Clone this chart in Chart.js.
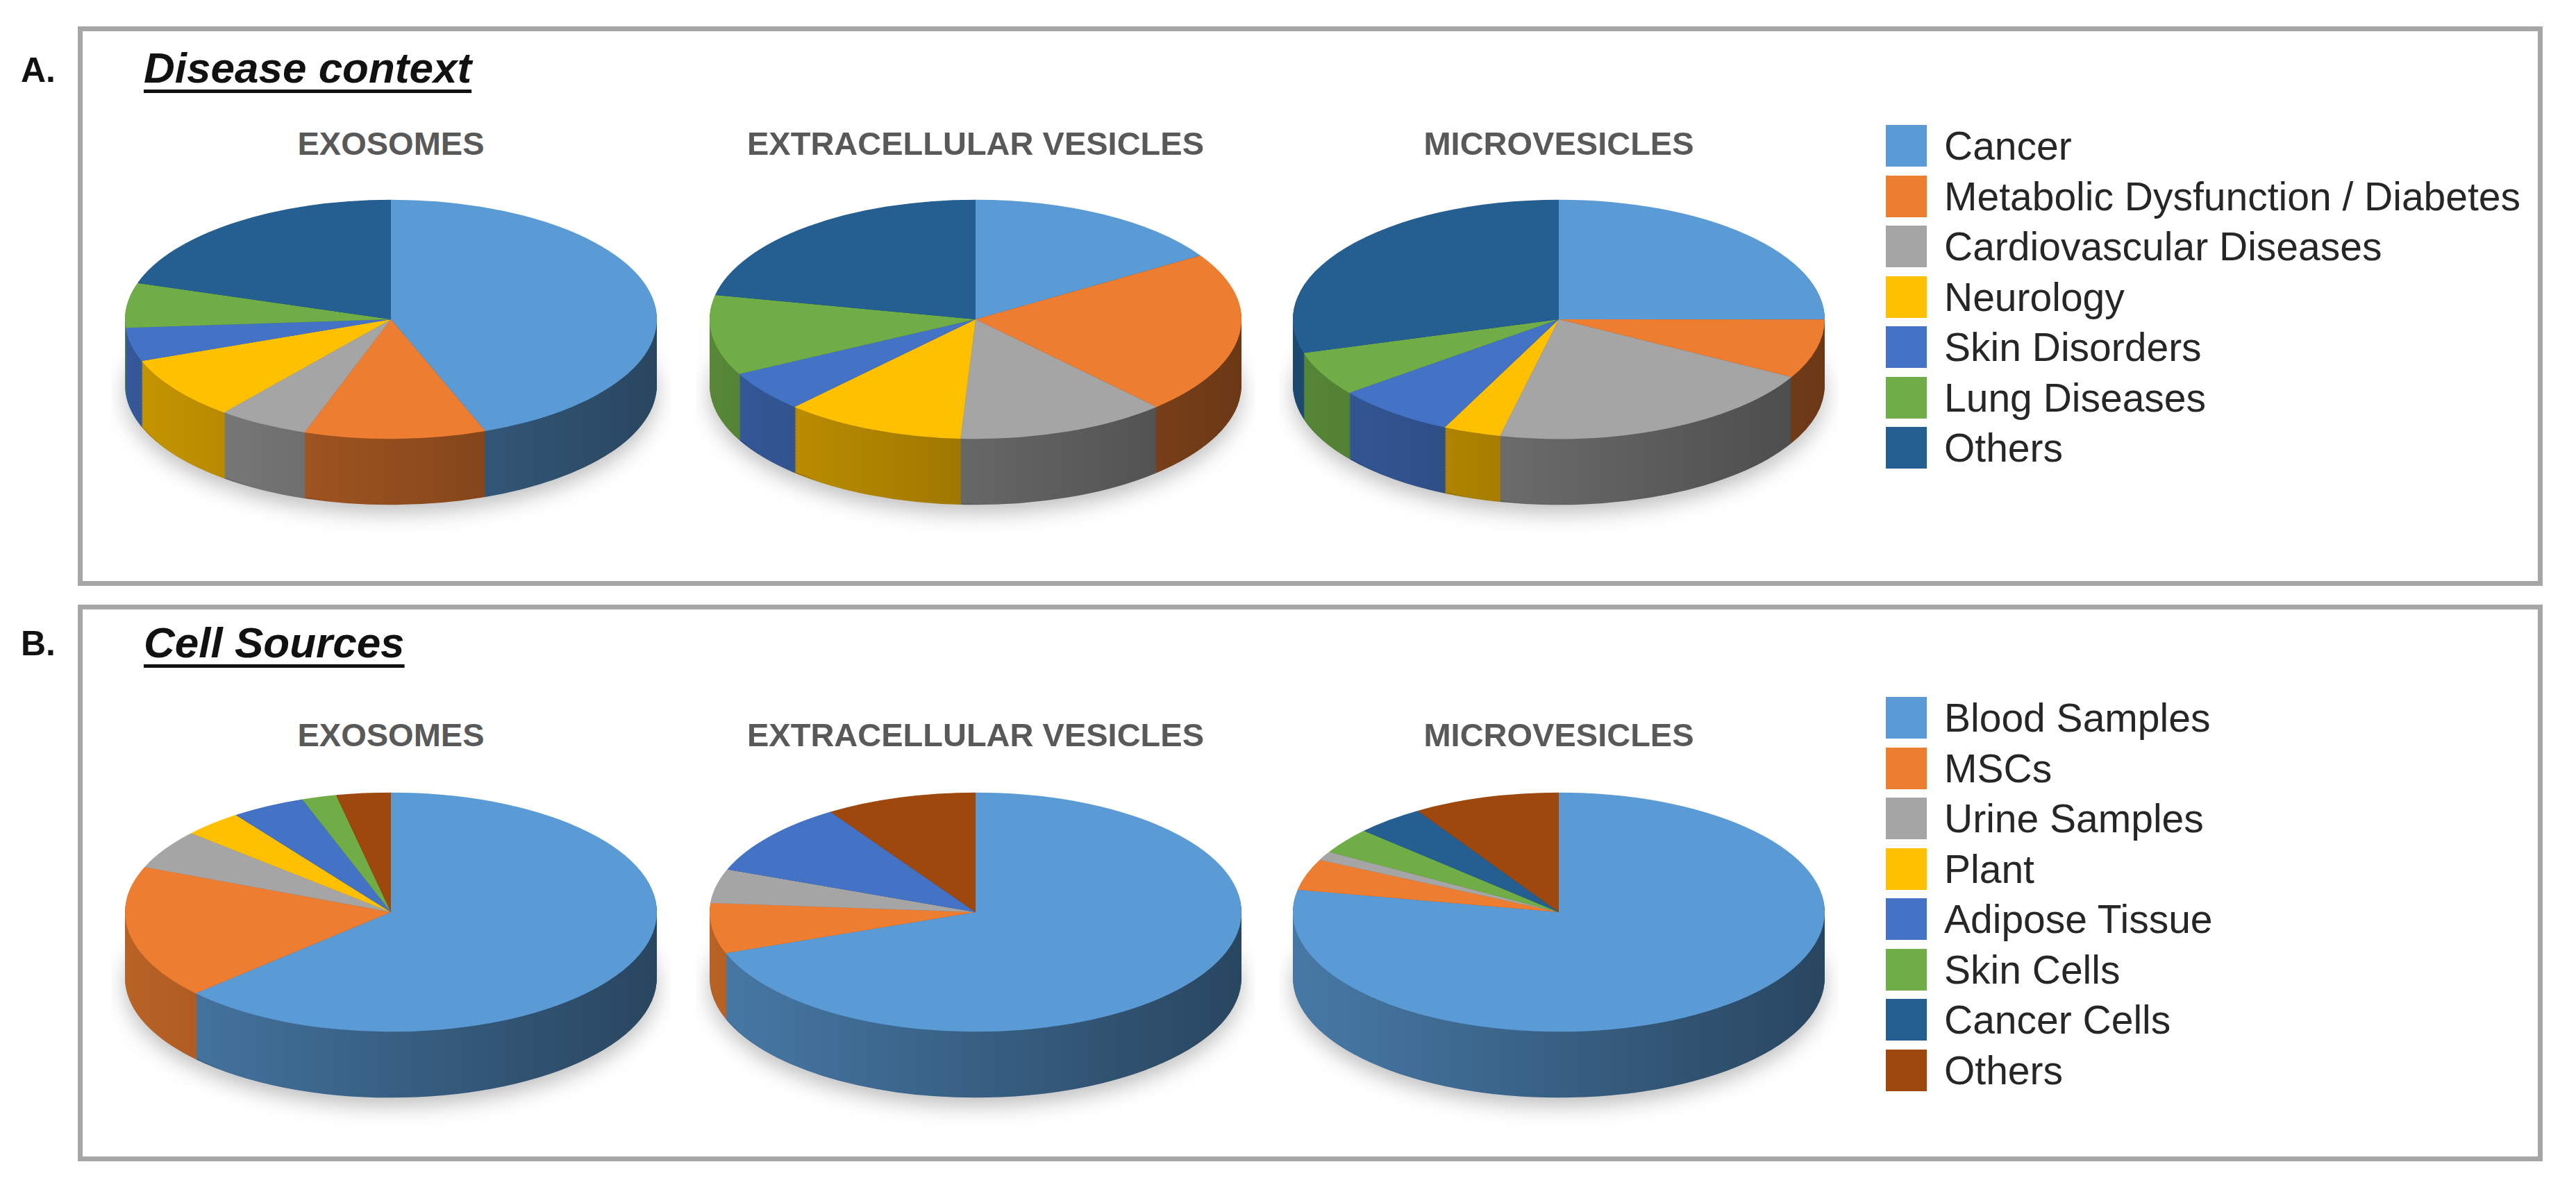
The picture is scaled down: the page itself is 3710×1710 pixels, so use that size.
<!DOCTYPE html>
<html><head><meta charset="utf-8">
<script src="https://cdn.jsdelivr.net/npm/chart.js@4"></script>
<style>
body{margin:0;background:#fff;width:3710px;height:1710px;position:relative;overflow:hidden;font-family:"Liberation Sans Narrow","Liberation Sans",sans-serif;}
.box{position:absolute;border:7px solid #a6a6a6;box-sizing:border-box;}
.lab{position:absolute;font-weight:bold;font-size:50px;color:#111;}
.head{position:absolute;font-weight:bold;font-style:italic;font-size:62px;color:#111;text-decoration:underline;text-decoration-thickness:5px;text-underline-offset:10px;}
.ttl{position:absolute;width:900px;text-align:center;font-weight:bold;font-size:47px;color:#595959;transform:translate(-50%,-50%);}
canvas{position:absolute;}
.leg{position:absolute;left:2716px;}
.row{position:absolute;left:0;height:60px;white-space:nowrap;}
.sw{position:absolute;left:0;top:0;width:59px;height:60px;}
.tx{position:absolute;left:84px;top:-4px;font-size:57px;color:#262626;line-height:68px;}
</style></head><body>
<div class="box" style="left:112px;top:38px;width:3550px;height:806px"></div>
<div class="box" style="left:112px;top:871px;width:3550px;height:802px"></div>
<div class="lab" style="left:30px;top:72px">A.</div>
<div class="head" style="left:207px;top:62px">Disease context</div>
<div class="lab" style="left:30px;top:898px">B.</div>
<div class="head" style="left:207px;top:890px">Cell Sources</div>
<div id="root"></div>
<script>
const pieTitles = ["EXOSOMES", "EXTRACELLULAR VESICLES", "MICROVESICLES"];
const diseaseLabels = ["Cancer", "Metabolic Dysfunction / Diabetes", "Cardiovascular Diseases", "Neurology", "Skin Disorders", "Lung Diseases", "Others"];
const diseaseColors = ["#5B9BD5", "#ED7D31", "#A5A5A5", "#FFC000", "#4472C4", "#70AD47", "#255E91"];
const diseaseExosomes = [44, 11, 5.5, 8.5, 4.5, 6, 20];
const diseaseEV = [16, 22, 12.8, 11, 5.5, 10.8, 21.7];
const diseaseMV = [25, 8, 20.5, 3.5, 7.4, 6, 29.5];
const cellLabels = ["Blood Samples", "MSCs", "Urine Samples", "Plant", "Adipose Tissue", "Skin Cells", "Cancer Cells", "Others"];
const cellColors = ["#5B9BD5", "#ED7D31", "#A5A5A5", "#FFC000", "#4472C4", "#70AD47", "#255E91", "#9E480E"];
const cellExosomes = [63, 18, 5.3, 3.6, 4.5, 2.1, 0, 3.3];
const cellEV = [69.5, 6.8, 4.6, 0, 10, 0, 0, 9.2];
const cellMV = [78, 4.2, 1.2, 0, 0, 3.5, 4.2, 8.9];

const R = 383, SQ = 0.45, DEPTH = 95;
const centersX = [563, 1405, 2245];
const rows = [
  {cy: 460, titleY: 206, labels: diseaseLabels, colors: diseaseColors, data: [diseaseExosomes, diseaseEV, diseaseMV], legTop: 180},
  {cy: 1314, titleY: 1058, labels: cellLabels, colors: cellColors, data: [cellExosomes, cellEV, cellMV], legTop: 1004}
];
function shade(hex, f){
  const n = parseInt(hex.slice(1),16);
  const r=Math.round(((n>>16)&255)*f), g=Math.round(((n>>8)&255)*f), b=Math.round((n&255)*f);
  return `rgb(${r},${g},${b})`;
}
const pie3d = {
  id: 'pie3d',
  beforeDatasetsDraw(chart){
    const ctx = chart.ctx;
    const meta = chart.getDatasetMeta(0);
    const a0 = meta.data[0];
    const cx = a0.x, cy = a0.y;
    const cols = chart.data.datasets[0].backgroundColor;
    ctx.save();
    ctx.shadowColor = 'rgba(0,0,0,0.25)'; ctx.shadowBlur = 30; ctx.shadowOffsetY = 12;
    for (let d = DEPTH; d > 0; d -= 2) {
      ctx.save();
      ctx.translate(cx, cy + d); ctx.scale(1, SQ); ctx.translate(-cx, -cy);
      const t = d / DEPTH;
      meta.data.forEach((el, i) => {
        if (el.endAngle - el.startAngle <= 0) return;
        // side shading: darker toward right
        const g = ctx.createLinearGradient(cx - R, 0, cx + R, 0);
        g.addColorStop(0, shade(cols[i], 0.78));
        g.addColorStop(1, shade(cols[i], 0.45));
        ctx.fillStyle = g;
        ctx.beginPath(); ctx.moveTo(cx, cy);
        ctx.arc(cx, cy, el.outerRadius, el.startAngle, el.endAngle);
        ctx.closePath(); ctx.fill();
      });
      ctx.restore();
      if (d === DEPTH) { ctx.shadowColor = 'transparent'; }
    }
    ctx.restore();
    ctx.save();
    ctx.translate(cx, cy); ctx.scale(1, SQ); ctx.translate(-cx, -cy);
  },
  afterDatasetsDraw(chart){ chart.ctx.restore(); }
};
const root = document.getElementById('root');
rows.forEach(row => {
  row.data.forEach((vals, k) => {
    const t = document.createElement('div');
    t.className = 'ttl'; t.textContent = pieTitles[k];
    t.style.left = centersX[k] + 'px'; t.style.top = row.titleY + 'px';
    root.appendChild(t);
    const c = document.createElement('canvas');
    const size = 2 * R + 40;
    c.width = size; c.height = size + 300;
    c.style.width = size + 'px'; c.style.height = (size + 300) + 'px';
    c.style.left = (centersX[k] - size / 2) + 'px';
    c.style.top = (row.cy - (size + 300) / 2) + 'px';
    root.appendChild(c);
    new Chart(c, {
      type: 'pie',
      data: { labels: row.labels, datasets: [{ data: vals, backgroundColor: row.colors, borderWidth: 0 }] },
      options: {
        responsive: false, animation: false, devicePixelRatio: 1,
        layout: { padding: { left: 20, right: 20, top: 150, bottom: 150 } },
        plugins: { legend: { display: false }, tooltip: { enabled: false } }
      },
      plugins: [pie3d]
    });
  });
  const leg = document.createElement('div');
  leg.className = 'leg'; leg.style.top = row.legTop + 'px';
  row.labels.forEach((l, i) => {
    const r = document.createElement('div');
    r.className = 'row'; r.style.top = (i * 72.5) + 'px';
    r.innerHTML = `<div class="sw" style="background:${row.colors[i]}"></div><div class="tx">${l}</div>`;
    leg.appendChild(r);
  });
  root.appendChild(leg);
});
</script>
</body></html>
